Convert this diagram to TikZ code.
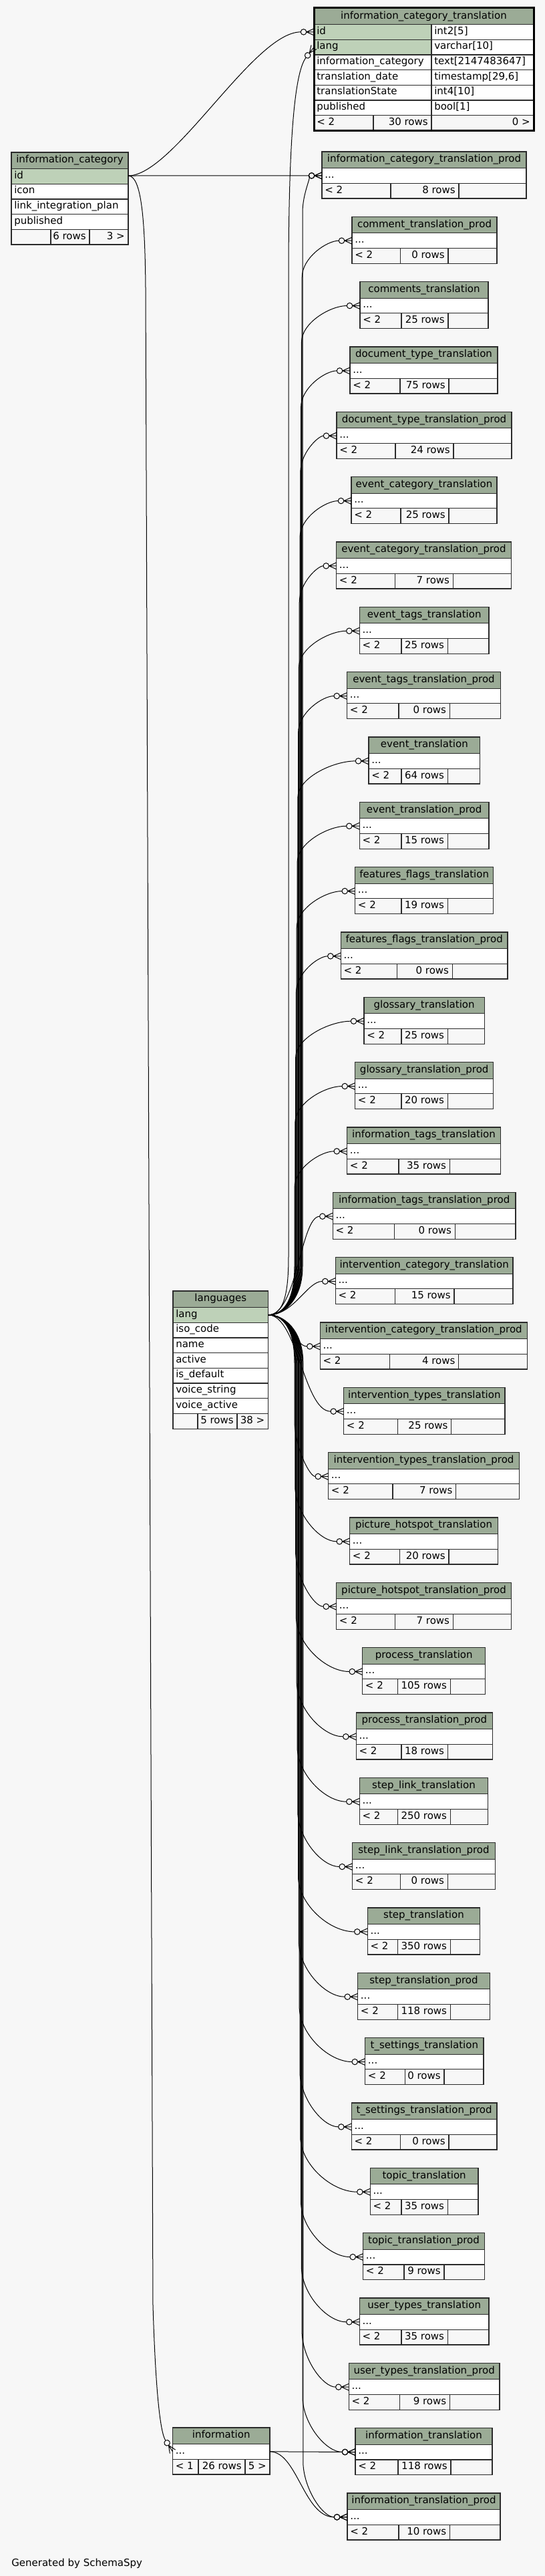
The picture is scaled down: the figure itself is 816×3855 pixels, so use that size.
\documentclass[tikz,border=0pt]{standalone}
\usepackage{fontspec}
\setmainfont{DejaVu Sans}
\usetikzlibrary{calc,arrows.meta}
\definecolor{bgc}{HTML}{F7F7F7}
\definecolor{titlec}{HTML}{9BAB96}
\definecolor{keyc}{HTML}{BED1B8}
\definecolor{footc}{HTML}{F7F7F7}
\definecolor{linec}{HTML}{2B2B2B}
\pgfdeclarearrow{
  name = crowodot,
  setup code = {
    \pgfarrowssettipend{0pt}
    \pgfarrowssetlineend{-14.8pt}
    \pgfarrowssetbackend{-14.8pt}
    \pgfarrowshullpoint{0pt}{3.75pt}
    \pgfarrowshullpoint{0pt}{-3.75pt}
    \pgfarrowshullpoint{-14.8pt}{0pt}
  },
  drawing code = {
    \pgfsetdash{}{0pt}
    \pgfpathmoveto{\pgfqpoint{-8.3pt}{0pt}}
    \pgfpathlineto{\pgfqpoint{0pt}{3.75pt}}
    \pgfpathmoveto{\pgfqpoint{-8.3pt}{0pt}}
    \pgfpathlineto{\pgfqpoint{0pt}{-3.75pt}}
    \pgfpathmoveto{\pgfqpoint{-8.3pt}{0pt}}
    \pgfpathlineto{\pgfqpoint{0pt}{0pt}}
    \pgfpathcircle{\pgfqpoint{-11.6pt}{0pt}}{3.2pt}
    \pgfusepathqstroke
  }
}
\tikzset{
  tbl/.style={draw=linec,line width=0.9pt},
  txt/.style={inner sep=0pt,font=\fontsize{11.25}{13}\selectfont,text=black},
  fk/.style={draw=black,line width=0.75pt,arrows={-crowodot}},
}
% small table: #1 k, #2 title, #3 rows, #4 left, #5 split1, #6 split2, #7 right
\newcommand\stbl[7]{%
  \pgfmathsetmacro\Ytp{227+(#1-2)*97.333}%
  \pgfmathsetmacro\Yta{\Ytp+24.5}%
  \pgfmathsetmacro\Ytb{\Yta+22.7}%
  \pgfmathsetmacro\Ytc{\Ytb+22.7}%
  \filldraw[tbl,fill=titlec] (#4,\Ytp) rectangle (#7,\Yta);
  \filldraw[tbl,fill=white] (#4,\Yta) rectangle (#7,\Ytb);
  \filldraw[tbl,fill=footc] (#4,\Ytb) rectangle (#7,\Ytc);
  \draw[tbl] (#5,\Ytb) -- (#5,\Ytc) (#6,\Ytb) -- (#6,\Ytc);
  \node[txt,anchor=base] (t#1) at ({(#4+#7)/2},\Ytp+15.8) {#2};
  \node[txt,anchor=base west] (d#1) at (#4+4,\Yta+14.5) {...};
  \node[txt,anchor=base west] (l#1) at (#4+4,\Ytb+14.8) {< 2};
  \node[txt,anchor=base east] (r#1) at (#6-5,\Ytb+14.8) {#3};
  \coordinate (p#1) at (#4,\Yta+11.35);
}
% two-column row: #1 ytop, #2 left, #3 split, #4 right, #5 fill, #6 name, #7 type, #8 id
\newcommand\colrow[8]{%
  \filldraw[tbl,fill=#5] (#2,#1) rectangle (#3,#1+22.7);
  \filldraw[tbl,fill=white] (#3,#1) rectangle (#4,#1+22.7);
  \node[txt,anchor=base west] (#8a) at (#2+4,#1+14.5) {#6};
  \node[txt,anchor=base west] (#8b) at (#3+4,#1+14.5) {#7};
}
% one-column row: #1 ytop, #2 left, #3 right, #4 fill, #5 text, #6 id
\newcommand\onerow[6]{%
  \filldraw[tbl,fill=#4] (#2,#1) rectangle (#3,#1+22.7);
  \node[txt,anchor=base west] (#6) at (#2+4,#1+14.5) {#5};
}
\newcommand\upedge[2]{%
  \pgfmathsetmacro\Yty{227+(#1-2)*97.333+35.85}%
  \draw[fk] (langp) .. controls (425,1967.8) and (#2,1945) .. (#2,1895) -- (#2,\Yty+55)
    .. controls (#2,\Yty+25) and ($(p#1)!0.5!(#2,\Yty)$) .. (p#1);
}
\newcommand\downedge[2]{%
  \pgfmathsetmacro\Yty{227+(#1-2)*97.333+35.85}%
  \draw[fk] (langp) .. controls (425,1967.8) and (#2,1990) .. (#2,2040) -- (#2,\Yty-80)
    .. controls (#2+2,\Yty-40) and ($(p#1)!0.55!(#2,\Yty)$) .. (p#1);
}
\begin{document}
\begin{tikzpicture}[x=0.75pt,y=-0.75pt]
\fill[bgc] (0,0) rectangle (816,3855);
\useasboundingbox (0,0) rectangle (816,3855);

% ---------- information_category_translation ----------
\filldraw[tbl,fill=titlec] (470,11) rectangle (799,36.5);
\node[txt,anchor=base] (ict) at (634.5,28.3) {information\_category\_translation};
\colrow{36.5}{470}{646}{799}{keyc}{id}{int2[5]}{ictr1}
\colrow{59.2}{470}{646}{799}{keyc}{lang}{varchar[10]}{ictr2}
\colrow{81.9}{470}{646}{799}{white}{information\_category}{text[2147483647]}{ictr3}
\colrow{104.6}{470}{646}{799}{white}{translation\_date}{timestamp[29,6]}{ictr4}
\colrow{127.3}{470}{646}{799}{white}{translationState}{int4[10]}{ictr5}
\colrow{150}{470}{646}{799}{white}{published}{bool[1]}{ictr6}
\filldraw[tbl,fill=footc] (470,172.7) rectangle (559,195.4);
\filldraw[tbl,fill=footc] (559,172.7) rectangle (646,195.4);
\filldraw[tbl,fill=footc] (646,172.7) rectangle (799,195.4);
\node[txt,anchor=base west] (ictf1) at (474,187.5) {< 2};
\node[txt,anchor=base east] (ictf2) at (641,187.5) {30 rows};
\node[txt,anchor=base east] (ictf3) at (794,187.5) {0 >};
\draw[black,line width=2.25pt] (470,11) rectangle (799,195.4);
\coordinate (ictid) at (470,47.85);
\coordinate (ictlang) at (470,70.55);

% ---------- information_category ----------
\filldraw[tbl,fill=titlec] (17,228) rectangle (192,252.5);
\node[txt,anchor=base] (ic) at (104.5,243.8) {information\_category};
\onerow{252.5}{17}{192}{keyc}{id}{ic1}
\onerow{275.2}{17}{192}{white}{icon}{ic2}
\onerow{297.9}{17}{192}{white}{link\_integration\_plan}{ic3}
\onerow{320.6}{17}{192}{white}{published}{ic4}
\filldraw[tbl,fill=footc] (17,343.3) rectangle (76,366);
\filldraw[tbl,fill=footc] (76,343.3) rectangle (134,366);
\filldraw[tbl,fill=footc] (134,343.3) rectangle (192,366);
\node[txt,anchor=base east] (icf2) at (129,358.1) {6 rows};
\node[txt,anchor=base east] (icf3) at (187,358.1) {3 >};
\coordinate (icid) at (192,263);

% ---------- languages ----------
\filldraw[tbl,fill=titlec] (259,1932) rectangle (401.6,1956.5);
\node[txt,anchor=base] (lg) at (330.3,1947.8) {languages};
\onerow{1956.5}{259}{401.6}{keyc}{lang}{lg1}
\onerow{1979.2}{259}{401.6}{white}{iso\_code}{lg2}
\onerow{2001.9}{259}{401.6}{white}{name}{lg3}
\onerow{2024.6}{259}{401.6}{white}{active}{lg4}
\onerow{2047.3}{259}{401.6}{white}{is\_default}{lg5}
\onerow{2070}{259}{401.6}{white}{voice\_string}{lg6}
\onerow{2092.7}{259}{401.6}{white}{voice\_active}{lg7}
\filldraw[tbl,fill=footc] (259,2115.4) rectangle (296,2138.1);
\filldraw[tbl,fill=footc] (296,2115.4) rectangle (355,2138.1);
\filldraw[tbl,fill=footc] (355,2115.4) rectangle (401.6,2138.1);
\node[txt,anchor=base east] (lgf2) at (350,2130.2) {5 rows};
\node[txt,anchor=base east] (lgf3) at (396.6,2130.2) {38 >};
\coordinate (langp) at (401.6,1967.8);

% ---------- information ----------
\filldraw[tbl,fill=titlec] (258.5,3633) rectangle (404,3657.5);
\node[txt,anchor=base] (inf) at (331.25,3648.8) {information};
\onerow{3657.5}{258.5}{404}{white}{...}{inf1}
\filldraw[tbl,fill=footc] (258.5,3680.2) rectangle (297,3702.9);
\filldraw[tbl,fill=footc] (297,3680.2) rectangle (367,3702.9);
\filldraw[tbl,fill=footc] (367,3680.2) rectangle (404,3702.9);
\node[txt,anchor=base west] (inff1) at (262.5,3695) {< 1};
\node[txt,anchor=base east] (inff2) at (362,3695) {26 rows};
\node[txt,anchor=base east] (inff3) at (399,3695) {5 >};
\coordinate (infoin) at (258.5,3668.8);
\coordinate (infoout) at (404,3668.8);

% ---------- translation tables ----------
\stbl{2}{information\_category\_translation\_prod}{8 rows}{482}{585}{687}{788}
\stbl{3}{comment\_translation\_prod}{0 rows}{527}{599.5}{671}{744}
\stbl{4}{comments\_translation}{25 rows}{539}{601}{671}{731}
\stbl{5}{document\_type\_translation}{75 rows}{524}{599}{672}{745}
\stbl{6}{document\_type\_translation\_prod}{24 rows}{504}{592}{679}{766}
\stbl{7}{event\_category\_translation}{25 rows}{526}{600}{672}{744}
\stbl{8}{event\_category\_translation\_prod}{7 rows}{503.7}{591.7}{678.3}{765.3}
\stbl{9}{event\_tags\_translation}{25 rows}{538.3}{601}{670.3}{732}
\stbl{10}{event\_tags\_translation\_prod}{0 rows}{519.7}{597}{673.3}{749.3}
\stbl{11}{event\_translation}{64 rows}{552}{601}{670.3}{718.7}
\stbl{12}{event\_translation\_prod}{15 rows}{538.3}{601}{670.3}{732}
\stbl{13}{features\_flags\_translation}{19 rows}{531.7}{601}{670.3}{738.7}
\stbl{14}{features\_flags\_translation\_prod}{0 rows}{510.3}{594.3}{677.3}{760}
\stbl{15}{glossary\_translation}{25 rows}{545}{601}{670.3}{725.3}
\stbl{16}{glossary\_translation\_prod}{20 rows}{531.7}{601}{670.3}{738.7}
\stbl{17}{information\_tags\_translation}{35 rows}{519.7}{597}{673.3}{749.3}
\stbl{18}{information\_tags\_translation\_prod}{0 rows}{498.3}{590.3}{681.3}{772}
\stbl{19}{intervention\_category\_translation}{15 rows}{502.3}{591.7}{680}{768}
\stbl{20}{intervention\_category\_translation\_prod}{4 rows}{479.3}{583.7}{686.7}{789.3}
\stbl{21}{intervention\_types\_translation}{25 rows}{514.7}{595.7}{675.7}{756}
\stbl{22}{intervention\_types\_translation\_prod}{7 rows}{491.7}{588}{682.7}{777.3}
\stbl{23}{picture\_hotspot\_translation}{20 rows}{523.7}{598.7}{672}{745.3}
\stbl{24}{picture\_hotspot\_translation\_prod}{7 rows}{503.7}{591.7}{678.3}{765.3}
\stbl{25}{process\_translation}{105 rows}{542.7}{595.7}{674.3}{726.7}
\stbl{26}{process\_translation\_prod}{18 rows}{533.3}{601}{670.3}{737.3}
\stbl{27}{step\_link\_translation}{250 rows}{538.3}{595.7}{674.3}{730.7}
\stbl{28}{step\_link\_translation\_prod}{0 rows}{527.7}{599.7}{670.3}{741.3}
\stbl{29}{step\_translation}{350 rows}{550.3}{595.7}{674.3}{718.7}
\stbl{30}{step\_translation\_prod}{118 rows}{535.7}{595.7}{674.3}{733.3}
\stbl{31}{t\_settings\_translation}{0 rows}{546.7}{606.7}{665}{724}
\stbl{32}{t\_settings\_translation\_prod}{0 rows}{526.3}{599.7}{672}{744}
\stbl{33}{topic\_translation}{35 rows}{554.3}{601}{670.3}{716}
\stbl{34}{topic\_translation\_prod}{9 rows}{543.7}{605}{665}{725.3}
\stbl{35}{user\_types\_translation}{35 rows}{538.3}{601}{670.3}{732}
\stbl{36}{user\_types\_translation\_prod}{9 rows}{522.3}{598.8}{673.5}{748}
\stbl{37}{information\_translation}{118 rows}{532}{596}{675}{737}
\stbl{38}{information\_translation\_prod}{10 rows}{520}{597}{673.5}{749}

% ---------- connectors ----------
\draw[fk] (icid) .. controls (260,263) and (380,47.85) .. (ictid);
\draw[fk] (icid) -- (p2);
\draw[fk] (icid) .. controls (212,263) and (217,330) .. (218,430) -- (229,3450)
  .. controls (233,3580) and (240,3640) .. (infoin);
\draw[fk] (langp) .. controls (425,1967.8) and (432,1935) .. (432,1880) -- (432,420)
  .. controls (432,220) and (440,110) .. (ictlang);
\foreach \k in {2,...,17} {\pgfmathsetmacro\bb{441+(17-\k)*0.8}\upedge{\k}{\bb}}
\foreach \k in {22,...,38} {\pgfmathsetmacro\bb{441+(\k-22)*0.8}\downedge{\k}{\bb}}
\draw[fk] (langp) .. controls (445,1967.8) and (450,1820.4) .. (p18);
\draw[fk] (langp) .. controls (440,1967.8) and (460,1917.4) .. (p19);
\draw[fk] (langp) .. controls (440,1967.8) and (440,2014.8) .. (p20);
\draw[fk] (langp) .. controls (445,1967.8) and (455,2112) .. (p21);
\draw[fk] (infoout) -- (p37);
\draw[fk] (infoout) .. controls (445,3668.8) and (455,3766.8) .. (p38);

\node[txt,anchor=base west] (gen) at (17,3840) {Generated by SchemaSpy};
\end{tikzpicture}
\end{document}
